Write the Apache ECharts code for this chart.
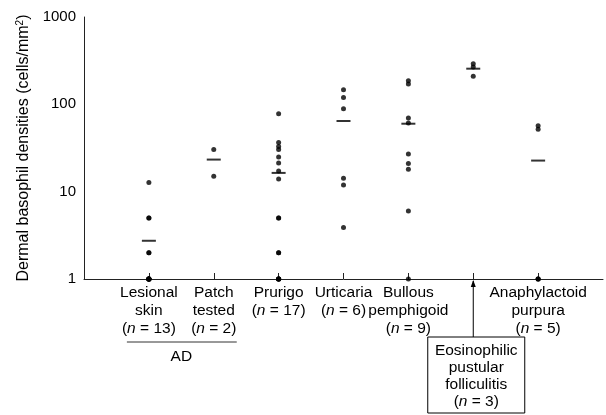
<!DOCTYPE html>
<html>
<head>
<meta charset="utf-8">
<script src="https://cdn.jsdelivr.net/npm/echarts@6/dist/echarts.min.js"></script>
<style>
html,body{margin:0;padding:0;background:#fff;}
#chart{width:606px;height:415px;}
</style>
</head>
<body>
<div id="chart"></div>
<script>
// ---- data ----
const categories = ['Lesional skin', 'Patch tested', 'Prurigo', 'Urticaria', 'Bullous pemphigoid', 'Eosinophilic pustular folliculitis', 'Anaphylactoid purpura'];
const labelLines = [['Lesional', 'skin'], ['Patch', 'tested'], ['Prurigo'], ['Urticaria'], ['Bullous', 'pemphigoid'], ['Eosinophilic', 'pustular', 'folliculitis'], ['Anaphylactoid', 'purpura']];
const groupN = [13, 2, 17, 6, 9, 3, 5];
const lesionalSkin = [12.7, 5, 5, 2, 2, 1, 1, 1, 1, 1, 1, 1, 1];
const patchTested = [30.4, 15];
const prurigo = [78, 36.5, 33, 30.4, 25, 21.3, 17.3, 14, 5, 5, 2, 2, 1, 1, 1, 1, 1];
const urticaria = [147, 120, 89, 14.2, 11.9, 3.9];
const bullousPemphigoid = [186, 171, 69.6, 61, 27, 21, 18, 6, 1];
const eosinophilicFolliculitis = [292, 268, 209];
const anaphylactoidPurpura = [57, 52, 1, 1, 1];
const groupMeans = [2.74, 23.3, 16.4, 64.4, 60, 256, 22.7];
const yTicks = [1, 10, 100, 1000];
const yTickLabels = ['1', '10', '100', '1000'];
const groupTitle = 'AD';

const groups = [lesionalSkin, patchTested, prurigo, urticaria, bullousPemphigoid, eosinophilicFolliculitis, anaphylactoidPurpura];
const axisCats = ['_start'].concat(categories, ['_end']);

const pointData = [];
groups.forEach((vals, gi) => vals.forEach(v => pointData.push([categories[gi], v])));
const meanData = groupMeans.map((m, gi) => [categories[gi], m]);

const FONT = 'Liberation Sans, Arial, sans-serif';
const chart = echarts.init(document.getElementById('chart'), null, {renderer: 'canvas'});

chart.setOption({
  animation: false,
  backgroundColor: '#fff',
  grid: {left: 84, right: 0, top: 17, bottom: 136},
  xAxis: {
    type: 'category',
    data: axisCats,
    boundaryGap: false,
    axisLine: {lineStyle: {color: '#222', width: 1}},
    axisTick: {inside: true, length: 6, lineStyle: {color: '#222'},
      interval: (idx) => idx >= 1 && idx <= categories.length},
    axisLabel: {
      interval: 0, margin: 5,
      formatter: (value) => {
        const idx = categories.indexOf(value);
        if (idx < 0 || idx === 5) return '';
        const lines = labelLines[idx].map(s => '{t|' + s + '}');
        lines.push('{t|(}{i|n}{t| = ' + groupN[idx] + ')}');
        return lines.join('\n');
      },
      rich: {
        t: {fontSize: 15.5, lineHeight: 18, color: '#000', fontFamily: FONT},
        i: {fontSize: 15.5, lineHeight: 18, color: '#000', fontFamily: FONT, fontStyle: 'italic'}
      }
    },
    splitLine: {show: false}
  },
  yAxis: {
    type: 'log', logBase: 10, min: yTicks[0], max: yTicks[yTicks.length - 1],
    name: 'Dermal basophil densities (cells/mm{sup|2})',
    nameLocation: 'middle', nameGap: 42,
    nameTextStyle: {fontSize: 16, color: '#000', fontFamily: FONT,
      rich: {sup: {fontSize: 10, color: '#000', fontFamily: FONT, verticalAlign: 'top', lineHeight: 10}}},
    axisLine: {show: true, lineStyle: {color: '#222', width: 1}},
    axisTick: {inside: true, length: 6, lineStyle: {color: '#222'}},
    minorTick: {show: false},
    axisLabel: {fontSize: 15, color: '#000', fontFamily: FONT, margin: 8,
      formatter: (v) => {
        const k = yTicks.findIndex(t => Math.abs(t - v) < 1e-6 * t);
        return k >= 0 ? yTickLabels[k] : '';
      }},
    splitLine: {show: false}
  },
  series: [
    {type: 'scatter', data: pointData, symbol: 'circle', symbolSize: 5,
     itemStyle: {color: '#000'}, z: 3},
    {type: 'scatter', data: meanData, symbol: 'rect', symbolSize: [14, 2],
     itemStyle: {color: '#000'}, z: 4}
  ]
});

// annotations positioned through the axes
const axisY = chart.convertToPixel({yAxisIndex: 0}, yTicks[0]);
const xE = chart.convertToPixel({xAxisIndex: 0}, categories[5]);
const x1 = chart.convertToPixel({xAxisIndex: 0}, categories[0]);
const x2 = chart.convertToPixel({xAxisIndex: 0}, categories[1]);
const boxTop = axisY + 58, boxW = 97, boxH = 76;
const boxCx = xE + 3;
const adY = axisY + 63;

chart.setOption({
  graphic: [
    {type: 'line', shape: {x1: xE, y1: axisY + 2, x2: xE, y2: boxTop}, style: {stroke: '#000', lineWidth: 1}},
    {type: 'polygon', shape: {points: [[xE, axisY + 1], [xE - 2.5, axisY + 8], [xE + 2.5, axisY + 8]]}, style: {fill: '#000'}},
    {type: 'rect', shape: {x: boxCx - boxW / 2, y: boxTop, width: boxW, height: boxH},
     style: {fill: '#fff', stroke: '#000', lineWidth: 1}},
    {type: 'text', style: {
      x: boxCx, y: boxTop + boxH / 2 + 1, align: 'center', verticalAlign: 'middle',
      text: labelLines[5].map(s => '{t|' + s + '}').join('\n') + '\n{t|(}{i|n}{t| = ' + groupN[5] + ')}',
      rich: {
        t: {fontSize: 15.5, lineHeight: 17, fill: '#000', fontFamily: FONT},
        i: {fontSize: 15.5, lineHeight: 17, fill: '#000', fontFamily: FONT, fontStyle: 'italic'}
      }}},
    {type: 'line', shape: {x1: x1 - 22, y1: adY, x2: x2 + 23, y2: adY}, style: {stroke: '#333', lineWidth: 1}},
    {type: 'text', style: {x: (x1 + x2) / 2, y: adY + 15, align: 'center', verticalAlign: 'middle',
      text: groupTitle, fontSize: 15.5, fontFamily: FONT, fill: '#000'}}
  ]
});
</script>
</body>
</html>
